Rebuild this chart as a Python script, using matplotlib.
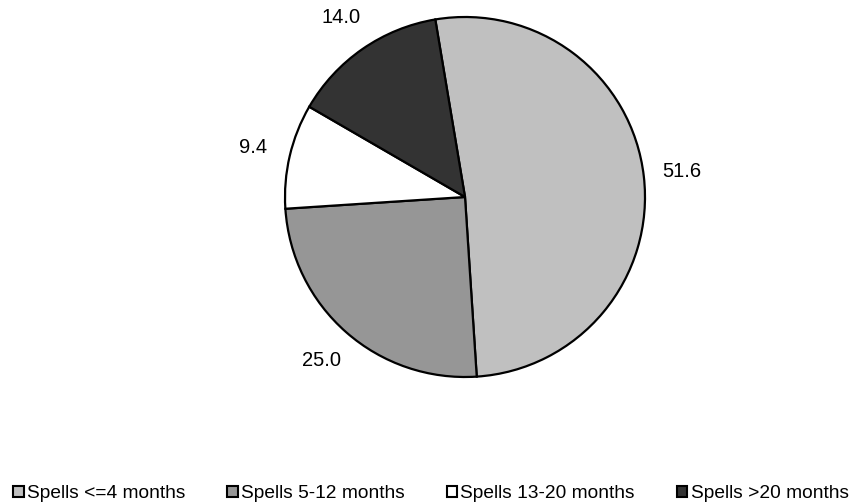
import matplotlib.pyplot as plt
import numpy as np

plt.rcParams['font.family'] = ['Liberation Sans', 'DejaVu Sans']

# spell duration shares (%)
categories = ['Spells <=4 months', 'Spells 5-12 months', 'Spells 13-20 months', 'Spells >20 months']
shares = [51.6, 25.0, 9.4, 14.0]
slice_colors = ['#c0c0c0', '#969696', '#ffffff', '#333333']

fig = plt.figure(figsize=(8.54, 5.04), dpi=100)
ax = fig.add_axes([285 / 854, 127 / 504, 360 / 854, 360 / 504])

wedges, texts = ax.pie(shares, colors=slice_colors, startangle=99.5, counterclock=False,
                       labels=['%.1f' % v for v in shares], labeldistance=1.21,
                       wedgeprops=dict(edgecolor='black', linewidth=1.6),
                       textprops=dict(fontsize=14.5))
for t in texts:
    t.set_ha('center')
    t.set_va('center')
ax.set_xlim(-1, 1)
ax.set_ylim(-1, 1)
ax.set_aspect('equal')

# legend along the bottom
handles = [plt.Rectangle((0, 0), 1, 1, facecolor=c, edgecolor='black', linewidth=1.5) for c in slice_colors]
fig.legend(handles, categories, loc='center left', bbox_to_anchor=(13 / 854, 1 - 494 / 504), ncol=4,
           frameon=False, fontsize=13.8, handlelength=0.55, handleheight=0.55,
           handletextpad=0.16, columnspacing=2.2, borderpad=0, borderaxespad=0)

fig.savefig('out.png', dpi=100)
